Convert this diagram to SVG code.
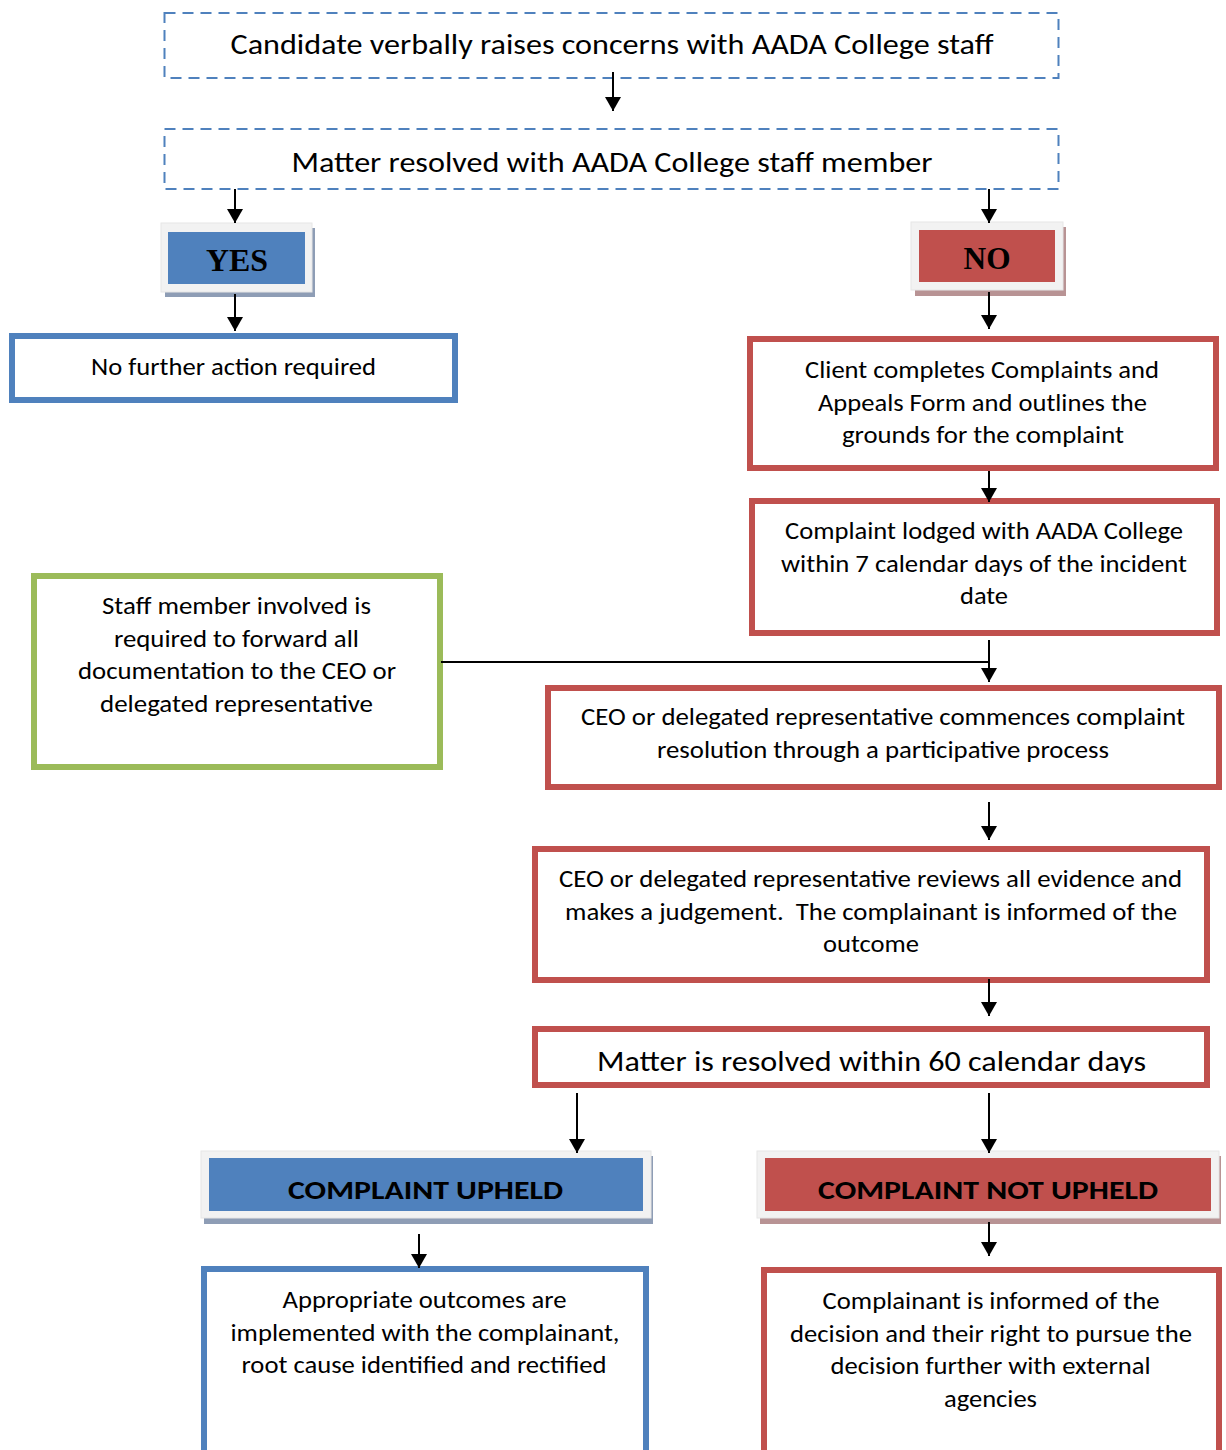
<svg xmlns="http://www.w3.org/2000/svg" width="1226" height="1450" viewBox="0 0 1226 1450">
<defs>
<style>
.t{font-family:Carlito,Lato,"Open Sans",sans-serif;font-size:25px;fill:#000;text-anchor:middle}
.big{font-size:29px}
.hb{font-family:Carlito,Lato,"Open Sans",sans-serif;font-weight:bold;font-size:27px;fill:#000;text-anchor:middle}
.yn{font-family:"Liberation Serif","Times New Roman",serif;font-weight:bold;font-size:32px;fill:#000;text-anchor:middle}
.dash{fill:#fff;stroke:#4F81BD;stroke-width:2;stroke-dasharray:11 7}
.bb{fill:#fff;stroke:#4F81BD;stroke-width:6}
.rb{fill:#fff;stroke:#C0504D;stroke-width:6}
.gb{fill:#fff;stroke:#9BBB59;stroke-width:6}
.frame{fill:#F2F2F2;stroke:#E6E6E6;stroke-width:1}
.shb{fill:#8E9DB5}
.shr{fill:#B89394}
.fb{fill:#4F81BD}
.fr{fill:#C0504D}
.c{stroke:#000;stroke-width:2;fill:none}
</style>
<marker id="ah" markerUnits="userSpaceOnUse" markerWidth="16" markerHeight="16" refX="14" refY="8" orient="auto">
<path d="M0,0 L14,8 L0,16 z" fill="#000"/>
</marker>
<clipPath id="clip60"><rect x="535" y="1029" width="672" height="44"/></clipPath>
</defs>

<g id="n1">
<rect class="dash" x="164.5" y="13" width="894" height="65"/>
<text class="t big" x="612" y="54" textLength="763" lengthAdjust="spacingAndGlyphs">Candidate verbally raises concerns with AADA College staff</text>
</g>

<g id="n2">
<rect class="dash" x="164.5" y="129" width="894" height="60"/>
<text class="t big" x="612" y="172" textLength="641" lengthAdjust="spacingAndGlyphs">Matter resolved with AADA College staff member</text>
</g>

<g id="yes">
<rect class="shb" x="165" y="228" width="150" height="69"/>
<rect class="frame" x="161" y="223" width="151" height="69"/>
<rect class="fb" x="168" y="232" width="137" height="52"/>
<text class="yn" x="237" y="271" textLength="62" lengthAdjust="spacingAndGlyphs">YES</text>
</g>

<g id="no">
<rect class="shr" x="915" y="227" width="151" height="69"/>
<rect class="frame" x="911" y="222" width="152" height="68"/>
<rect class="fr" x="919" y="230" width="136" height="52"/>
<text class="yn" x="987" y="269" textLength="47" lengthAdjust="spacingAndGlyphs">NO</text>
</g>

<g id="nofurther">
<rect class="bb" x="12" y="336" width="443" height="64"/>
<text class="t" x="233.5" y="375" textLength="285" lengthAdjust="spacingAndGlyphs">No further action required</text>
</g>

<g id="client">
<rect class="rb" x="750" y="339" width="466" height="129"/>
<text class="t" x="982" y="378" textLength="354" lengthAdjust="spacingAndGlyphs">Client completes Complaints and</text>
<text class="t" x="982.5" y="410.5" textLength="329" lengthAdjust="spacingAndGlyphs">Appeals Form and outlines the</text>
<text class="t" x="983" y="443" textLength="282" lengthAdjust="spacingAndGlyphs">grounds for the complaint</text>
</g>

<g id="lodged">
<rect class="rb" x="752" y="501" width="465" height="132"/>
<text class="t" x="984" y="539" textLength="398" lengthAdjust="spacingAndGlyphs">Complaint lodged with AADA College</text>
<text class="t" x="984" y="571.5" textLength="406" lengthAdjust="spacingAndGlyphs">within 7 calendar days of the incident</text>
<text class="t" x="984" y="604" textLength="48" lengthAdjust="spacingAndGlyphs">date</text>
</g>

<g id="staff">
<rect class="gb" x="34" y="576" width="406" height="191"/>
<text class="t" x="236.5" y="614" textLength="269" lengthAdjust="spacingAndGlyphs">Staff member involved is</text>
<text class="t" x="236.5" y="646.5" textLength="245" lengthAdjust="spacingAndGlyphs">required to forward all</text>
<text class="t" x="237" y="679" textLength="318" lengthAdjust="spacingAndGlyphs">documentation to the CEO or</text>
<text class="t" x="236.5" y="711.5" textLength="273" lengthAdjust="spacingAndGlyphs">delegated representative</text>
</g>

<g id="commences">
<rect class="rb" x="548" y="688" width="671" height="99"/>
<text class="t" x="883" y="725" textLength="604" lengthAdjust="spacingAndGlyphs">CEO or delegated representative commences complaint</text>
<text class="t" x="883" y="758" textLength="452" lengthAdjust="spacingAndGlyphs">resolution through a participative process</text>
</g>

<g id="reviews">
<rect class="rb" x="535" y="849" width="672" height="131"/>
<text class="t" x="870.5" y="887" textLength="623" lengthAdjust="spacingAndGlyphs">CEO or delegated representative reviews all evidence and</text>
<text class="t" x="871" y="920" textLength="612" lengthAdjust="spacingAndGlyphs" xml:space="preserve">makes a judgement.  The complainant is informed of the</text>
<text class="t" x="871" y="952" textLength="96" lengthAdjust="spacingAndGlyphs">outcome</text>
</g>

<g id="sixty">
<rect class="rb" x="535" y="1029" width="672" height="56"/>
<text class="t big" x="871.5" y="1071" textLength="549" lengthAdjust="spacingAndGlyphs" clip-path="url(#clip60)">Matter is resolved within 60 calendar days</text>
</g>

<g id="upheld">
<rect class="shb" x="204" y="1156" width="449" height="68"/>
<rect class="frame" x="201" y="1151" width="450" height="67"/>
<rect class="fb" x="209" y="1158" width="434" height="53"/>
<text class="hb" x="425.5" y="1199" textLength="275" lengthAdjust="spacingAndGlyphs">COMPLAINT UPHELD</text>
</g>

<g id="notupheld">
<rect class="shr" x="760" y="1156" width="461" height="68"/>
<rect class="frame" x="757" y="1151" width="462" height="67"/>
<rect class="fr" x="765" y="1158" width="446" height="53"/>
<text class="hb" x="988" y="1199" textLength="340" lengthAdjust="spacingAndGlyphs">COMPLAINT NOT UPHELD</text>
</g>

<g id="outcomes">
<rect class="bb" x="204" y="1269" width="442" height="190"/>
<text class="t" x="424.5" y="1308" textLength="284" lengthAdjust="spacingAndGlyphs">Appropriate outcomes are</text>
<text class="t" x="425" y="1340.5" textLength="389" lengthAdjust="spacingAndGlyphs">implemented with the complainant,</text>
<text class="t" x="424" y="1373" textLength="365" lengthAdjust="spacingAndGlyphs">root cause identified and rectified</text>
</g>

<g id="informed">
<rect class="rb" x="764" y="1270" width="455" height="190"/>
<text class="t" x="991" y="1309" textLength="337" lengthAdjust="spacingAndGlyphs">Complainant is informed of the</text>
<text class="t" x="991" y="1341.5" textLength="402" lengthAdjust="spacingAndGlyphs">decision and their right to pursue the</text>
<text class="t" x="990.5" y="1374" textLength="320" lengthAdjust="spacingAndGlyphs">decision further with external</text>
<text class="t" x="990.5" y="1406.5" textLength="93" lengthAdjust="spacingAndGlyphs">agencies</text>
</g>

<g id="connectors">
<line class="c" x1="613" y1="72" x2="613" y2="111" marker-end="url(#ah)"/>
<line class="c" x1="235" y1="189" x2="235" y2="223" marker-end="url(#ah)"/>
<line class="c" x1="989" y1="189" x2="989" y2="223" marker-end="url(#ah)"/>
<line class="c" x1="235" y1="294" x2="235" y2="331" marker-end="url(#ah)"/>
<line class="c" x1="989" y1="292" x2="989" y2="329" marker-end="url(#ah)"/>
<line class="c" x1="989" y1="471" x2="989" y2="502" marker-end="url(#ah)"/>
<line class="c" x1="989" y1="640" x2="989" y2="682" marker-end="url(#ah)"/>
<line class="c" x1="441" y1="662" x2="989" y2="662"/>
<line class="c" x1="989" y1="802" x2="989" y2="840" marker-end="url(#ah)"/>
<line class="c" x1="989" y1="979" x2="989" y2="1016" marker-end="url(#ah)"/>
<line class="c" x1="577" y1="1093" x2="577" y2="1153" marker-end="url(#ah)"/>
<line class="c" x1="989" y1="1093" x2="989" y2="1153" marker-end="url(#ah)"/>
<line class="c" x1="419" y1="1234" x2="419" y2="1268" marker-end="url(#ah)"/>
<line class="c" x1="989" y1="1222" x2="989" y2="1256" marker-end="url(#ah)"/>
</g>
</svg>
